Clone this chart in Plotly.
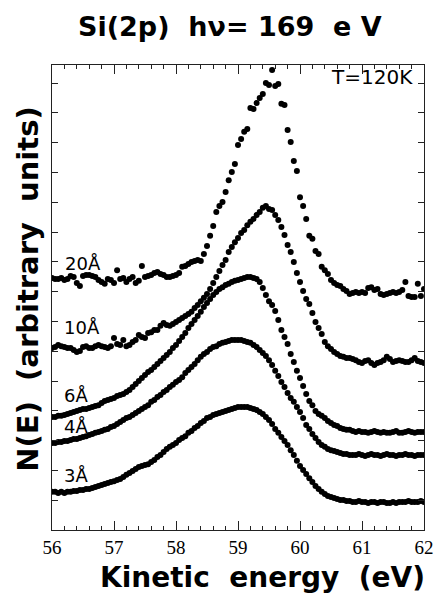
import numpy as np
import plotly.graph_objects as go

# Kinetic energy grid (eV)
energy = np.round(np.linspace(56.0, 62.0, 121), 2)

# N(E), arbitrary units (curves offset vertically as in the figure)
n_3A = [12.8, 12.8, 12.4, 12.8, 12.4, 12.8, 12.8, 13.1, 13.1, 13.4,
        13.4, 13.8, 13.8, 14.1, 14.4, 14.8, 15.1, 15.4, 15.8, 16.1,
        16.4, 16.8, 17.1, 17.8, 18.5, 19.1, 19.8, 20.5, 21.1, 21.5,
        21.8, 22.1, 22.8, 23.5, 24.5, 25.2, 26.2, 27.2, 27.9, 28.5,
        29.2, 30.2, 30.9, 31.5, 32.6, 33.2, 34.2, 34.9, 35.9, 36.6,
        37.6, 37.9, 38.6, 38.9, 39.3, 39.6, 39.9, 40.3, 40.6, 40.9,
        41.3, 41.3, 41.3, 41.3, 40.9, 40.6, 40.3, 39.6, 38.9, 37.9,
        36.9, 35.6, 33.9, 32.6, 31.2, 29.9, 28.5, 26.8, 25.2, 23.2,
        21.5, 20.1, 18.8, 17.4, 16.1, 14.8, 13.8, 12.8, 12.1, 11.4,
        11.1, 10.7, 10.4, 10.1, 10.1, 9.7, 9.7, 9.4, 9.4, 9.7,
        9.4, 9.4, 9.1, 9.4, 9.4, 9.1, 9.4, 9.4, 9.1, 9.1,
        9.4, 9.1, 9.4, 9.4, 9.4, 9.7, 9.4, 9.4, 9.4, 9.7,
        9.4]

n_4A = [29.2, 29.2, 29.5, 29.5, 29.9, 29.9, 30.2, 30.5, 30.5, 30.9,
        31.2, 31.5, 31.9, 32.2, 32.6, 32.9, 33.2, 33.6, 33.9, 34.6,
        34.9, 35.6, 36.2, 36.9, 37.6, 37.9, 38.6, 39.3, 39.9, 40.6,
        41.3, 41.9, 43.0, 43.6, 44.6, 45.3, 46.3, 47.0, 48.0, 48.7,
        49.7, 50.3, 51.3, 52.7, 53.7, 54.7, 55.7, 57.0, 58.1, 59.1,
        59.7, 60.7, 61.4, 61.7, 62.4, 62.8, 63.1, 63.4, 63.8, 63.8,
        63.8, 63.8, 63.4, 63.1, 62.8, 62.1, 61.4, 60.4, 59.4, 58.4,
        57.0, 55.4, 53.4, 51.7, 49.7, 48.0, 46.0, 44.3, 43.0, 41.3,
        39.6, 37.6, 35.2, 33.9, 32.2, 30.9, 29.5, 28.5, 27.9, 27.2,
        26.8, 26.5, 26.2, 25.8, 25.5, 25.5, 25.2, 25.2, 25.2, 25.5,
        25.2, 24.8, 25.2, 25.5, 25.2, 25.2, 24.8, 25.2, 25.5, 25.2,
        25.2, 24.8, 25.2, 25.2, 25.5, 25.2, 25.2, 24.8, 25.2, 25.2,
        25.2]

n_6A = [37.9, 37.9, 38.3, 38.3, 38.6, 38.9, 39.3, 39.6, 39.9, 40.3,
        40.6, 40.6, 40.9, 41.3, 41.6, 41.9, 42.6, 43.3, 43.6, 44.0,
        44.3, 45.0, 45.3, 45.6, 46.3, 47.0, 48.0, 49.0, 50.0, 51.0,
        52.0, 53.0, 53.7, 54.7, 55.7, 56.7, 57.7, 58.7, 59.7, 61.1,
        62.1, 63.4, 64.8, 66.1, 67.8, 69.1, 70.5, 71.8, 73.2, 74.8,
        76.2, 77.5, 78.9, 79.9, 80.9, 81.5, 82.2, 82.6, 83.2, 83.6,
        83.9, 84.2, 84.6, 84.9, 84.9, 84.6, 84.2, 83.2, 81.2, 78.9,
        76.8, 75.5, 73.5, 70.5, 67.1, 64.8, 62.4, 59.1, 56.4, 53.4,
        51.0, 48.3, 45.6, 43.3, 41.9, 39.9, 38.9, 38.3, 37.6, 36.6,
        35.9, 35.2, 34.9, 34.2, 33.9, 33.6, 33.6, 33.2, 32.9, 33.2,
        32.9, 32.9, 32.6, 32.9, 33.2, 32.9, 32.6, 32.9, 32.6, 32.6,
        32.9, 33.2, 32.6, 32.6, 32.9, 33.2, 32.9, 32.6, 32.9, 32.9,
        32.9]

n_10A = [61.1, 61.4, 62.1, 61.7, 61.4, 61.1, 61.1, 60.4, 59.7, 60.1,
         61.4, 61.7, 61.1, 61.1, 61.7, 62.1, 61.7, 61.4, 61.1, 61.7,
         64.4, 62.4, 62.1, 63.8, 61.7, 62.1, 63.1, 63.8, 65.4, 64.8,
         64.4, 66.1, 66.4, 67.1, 67.1, 68.5, 69.5, 68.8, 68.5, 69.1,
         69.8, 70.5, 71.1, 71.8, 72.5, 73.2, 74.5, 75.5, 76.8, 77.9,
         79.2, 80.9, 82.9, 84.9, 86.9, 88.9, 90.6, 93.3, 95.0, 96.6,
         98.0, 99.7, 100.7, 102.3, 103.4, 104.4, 105.7, 106.7, 108.1, 108.7,
         107.7, 107.4, 105.7, 104.0, 101.7, 99.0, 95.6, 93.3, 89.9, 86.2,
         83.2, 80.2, 77.5, 75.8, 72.8, 69.8, 67.8, 65.8, 63.1, 61.7,
         60.7, 59.7, 59.1, 58.4, 58.1, 57.7, 57.7, 57.4, 57.0, 56.4,
         56.0, 56.7, 57.0, 56.0, 55.4, 56.0, 56.4, 57.0, 58.1, 57.4,
         56.4, 56.7, 57.0, 56.7, 56.4, 56.4, 57.0, 57.7, 56.7, 56.4,
         56.0]

n_20A = [84.6, 84.2, 84.2, 84.6, 83.9, 84.2, 85.2, 84.9, 82.9, 81.9,
         85.2, 85.6, 85.6, 85.2, 84.9, 83.9, 83.2, 82.6, 84.2, 83.9,
         82.9, 87.2, 84.2, 84.6, 83.2, 84.2, 84.9, 82.9, 83.6, 88.6,
         84.9, 85.2, 85.6, 86.2, 86.6, 85.9, 85.6, 84.9, 84.9, 85.2,
         85.6, 86.2, 88.3, 88.6, 89.3, 89.9, 90.3, 90.6, 90.3, 92.6,
         95.3, 98.7, 102.0, 106.7, 108.7, 110.1, 113.4, 117.4, 120.1, 122.8,
         129.2, 131.2, 133.6, 134.6, 141.6, 141.3, 143.3, 145.0, 146.3, 150.0,
         149.3, 154.4, 149.0, 149.7, 143.0, 142.6, 134.2, 130.2, 123.8, 120.5,
         111.7, 108.7, 104.4, 98.7, 97.7, 93.6, 92.6, 88.3, 87.2, 85.9,
         83.9, 82.9, 82.2, 81.9, 80.9, 80.2, 79.2, 79.5, 79.9, 79.5,
         79.9, 79.5, 81.2, 81.5, 80.5, 80.9, 79.2, 78.9, 79.2, 79.5,
         79.9, 79.5, 79.9, 80.5, 83.2, 78.5, 78.2, 78.2, 82.6, 78.5,
         80.9]

series = [("3Å", n_3A), ("4Å", n_4A), ("6Å", n_6A), ("10Å", n_10A), ("20Å", n_20A)]

# label positions (energy, N) for the thickness labels
label_names = ["20Å", "10Å", "6Å", "4Å", "3Å"]
label_x = [56.50, 56.48, 56.39, 56.39, 56.39]
label_y = [89.5, 68.0, 45.0, 34.6, 18.2]

fig = go.Figure()
for name, vals in series:
    fig.add_trace(go.Scatter(
        x=energy[:len(vals)], y=vals, mode="markers", name=name,
        marker=dict(size=6, color="black"), showlegend=False))

axis_line = "#222222"
fig.update_xaxes(
    range=[56, 62], dtick=1, tick0=56,
    showline=True, linecolor=axis_line, linewidth=1, mirror="allticks",
    ticks="inside", ticklen=9, tickwidth=1, tickcolor=axis_line,
    minor=dict(dtick=0.2, ticks="inside", ticklen=4, tickwidth=1, tickcolor=axis_line),
    showgrid=False, zeroline=False,
    tickfont=dict(family="Liberation Serif", size=19, color="black"),
)
fig.update_yaxes(
    range=[0, 156.04], dtick=10, tick0=0,
    showline=True, linecolor=axis_line, linewidth=1, mirror="allticks",
    ticks="inside", ticklen=6, tickwidth=1, tickcolor=axis_line,
    showticklabels=False, showgrid=False, zeroline=False,
)

annotations = []
for t, x, y in zip(label_names, label_x, label_y):
    annotations.append(dict(x=x, y=y, xref="x", yref="y", text=t, showarrow=False,
                            font=dict(family="DejaVu Sans", size=18, color="black"),
                            xanchor="center", yanchor="middle"))

nb = "\u00a0"
annotations += [
    dict(x=0.86, y=0.975, xref="paper", yref="paper", text="T=120K", showarrow=False,
         font=dict(family="DejaVu Sans", size=20, color="black"),
         xanchor="center", yanchor="middle"),
    dict(x=0.478, y=1.083, xref="paper", yref="paper",
         text=f"<b>Si(2p){nb}{nb}hν={nb}169{nb}{nb}e{nb}V</b>", showarrow=False,
         font=dict(family="DejaVu Sans", size=27, color="black"),
         xanchor="center", yanchor="middle"),
    dict(x=0.565, y=-0.103, xref="paper", yref="paper",
         text=f"<b>Kinetic{nb}{nb}energy{nb}{nb}(eV)</b>", showarrow=False,
         font=dict(family="DejaVu Sans", size=28, color="black"),
         xanchor="center", yanchor="middle"),
    dict(x=-0.063, y=0.518, xref="paper", yref="paper",
         text=f"<b>N(E){nb}{nb}(arbitrary{nb}{nb}units)</b>", showarrow=False,
         textangle=-90,
         font=dict(family="DejaVu Sans", size=29, color="black"),
         xanchor="center", yanchor="middle"),
]

fig.update_layout(
    width=444, height=596,
    margin=dict(l=52, r=10, t=65, b=66),
    paper_bgcolor="white", plot_bgcolor="white",
    annotations=annotations,
)

fig.write_html("out.html")
